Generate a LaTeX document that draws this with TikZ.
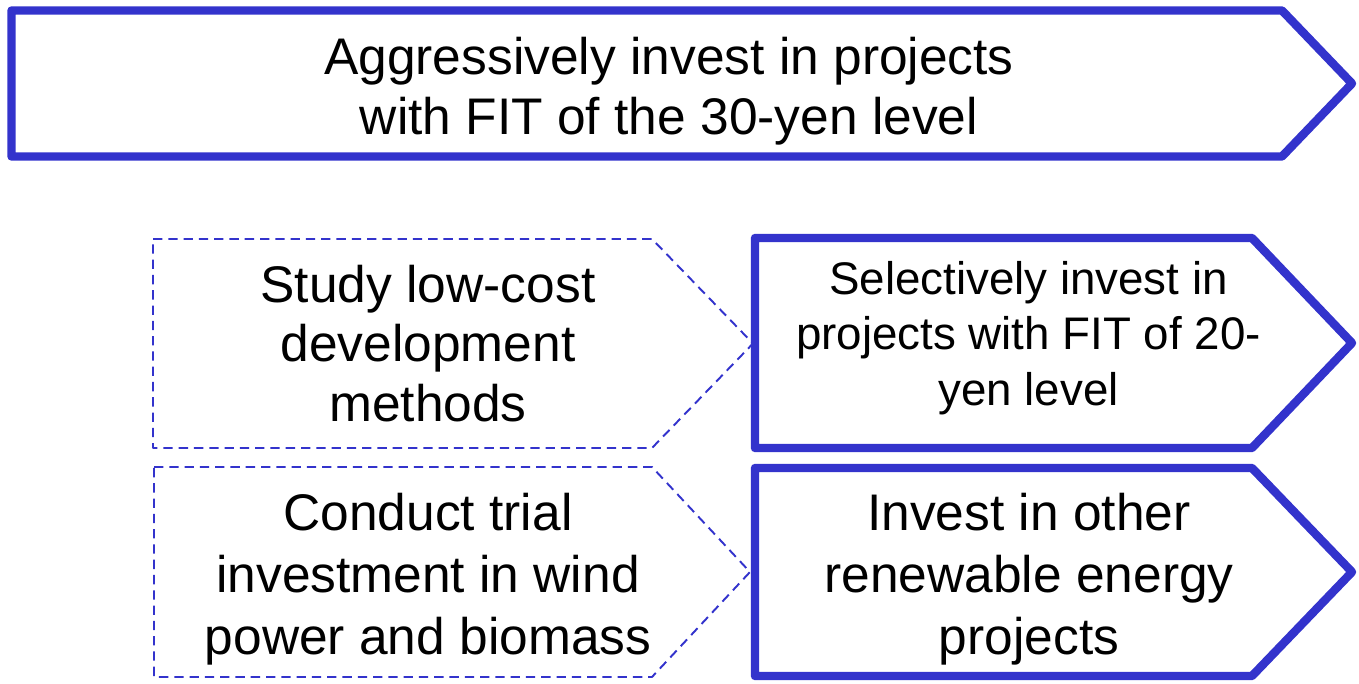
\documentclass[tikz,border=0pt]{standalone}
\usepackage{fontspec}
\setmainfont{Liberation Sans}
\definecolor{planblue}{HTML}{3333CC}
\tikzset{
  mainpath/.style={draw=planblue, line width=4.8pt, line join=round},
  trialpath/.style={draw=planblue, line width=1.1pt, dash pattern=on 5.3pt off 3.4pt, line join=round},
  bigtext/.style={align=center, inner sep=0pt, font=\fontsize{29.3pt}{33.8pt}\selectfont},
  loosetext/.style={bigtext, font=\fontsize{29.3pt}{35.3pt}\selectfont},
  smalltext/.style={align=center, inner sep=0pt, font=\fontsize{26pt}{31.5pt}\selectfont}
}
\begin{document}
\begin{tikzpicture}
  \useasboundingbox (0,0) rectangle (27.18,13.68);
  % first stage: the 30-yen projects
  \draw[mainpath] (0.23,13.47) -- (25.64,13.47) -- (27.04,12.01) -- (25.64,10.55) -- (0.23,10.55) -- cycle;
  \node[bigtext] (fit30) at (13.38,11.86) {Aggressively invest in projects\\with FIT of the 30-yen level};
  % second row
  \draw[trialpath] (3.06,8.90) -- (13.04,8.90) -- (15.06,6.81) -- (13.04,4.72) -- (3.06,4.72) -- cycle;
  \draw[mainpath] (15.10,8.92) -- (25.04,8.92) -- (27.04,6.82) -- (25.04,4.72) -- (15.10,4.72) -- cycle;
  \node[bigtext] (lowcost) at (8.56,6.81) {Study low-cost\\development\\methods};
  \node[smalltext] (fit20) at (20.57,6.92) {Selectively invest in\\projects with FIT of 20-\\yen level};
  % third row
  \draw[trialpath] (3.08,4.34) -- (13.04,4.34) -- (15.00,2.24) -- (13.04,0.14) -- (3.08,0.14) -- cycle;
  \draw[mainpath] (15.10,4.32) -- (25.04,4.32) -- (27.04,2.24) -- (25.04,0.16) -- (15.10,0.16) -- cycle;
  \node[loosetext] (trial) at (8.56,2.10) {Conduct trial\\investment in wind\\power and biomass};
  \node[loosetext] (others) at (20.58,2.10) {Invest in other\\renewable energy\\projects};
\end{tikzpicture}
\end{document}
